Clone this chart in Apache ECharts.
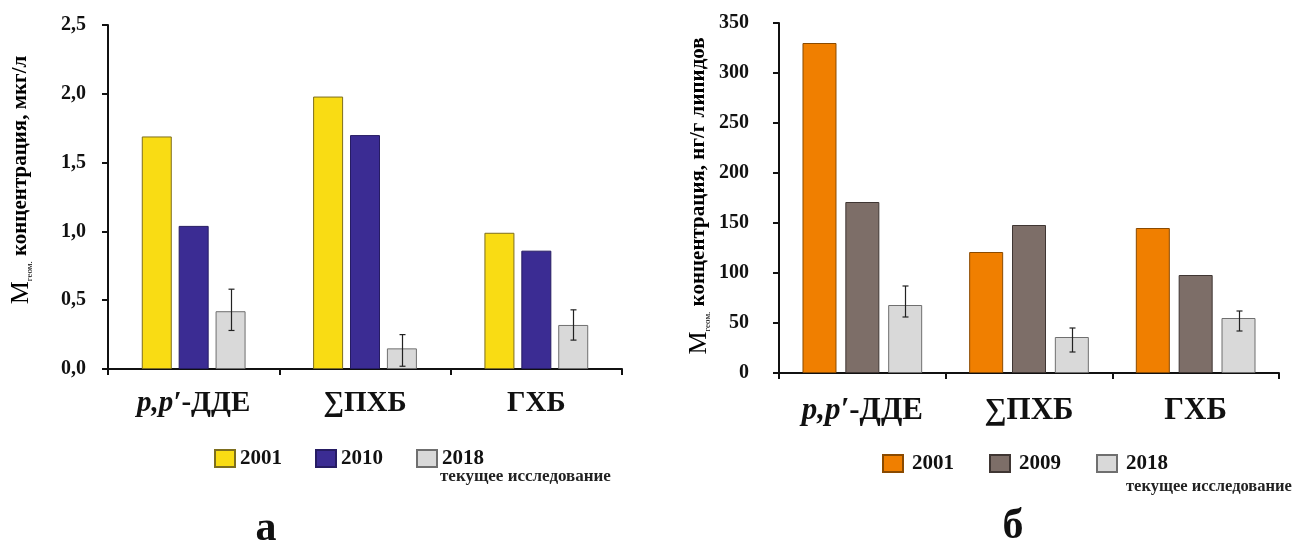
<!DOCTYPE html>
<html><head><meta charset="utf-8">
<script src="https://cdn.jsdelivr.net/npm/echarts@6/dist/echarts.min.js"></script>
<style>html,body{margin:0;padding:0;background:#fff}#c{width:1300px;height:560px}</style>
</head><body><div id="c"></div>
<script>
// ---- data ----
const categories = ['p,p′-ДДЕ', '∑ПХБ', 'ГХБ'];

const leftYears = ['2001', '2010', '2018'];
const left2001 = [1.69, 1.98, 0.99];
const left2010 = [1.04, 1.70, 0.86];
const left2018 = [0.42, 0.15, 0.32];
const left2018Low = [0.28, 0.02, 0.21];
const left2018High = [0.58, 0.25, 0.43];
const leftTicks = ['0,0', '0,5', '1,0', '1,5', '2,0', '2,5'];

const rightYears = ['2001', '2009', '2018'];
const right2001 = [330, 121, 145];
const right2009 = [171, 148, 98];
const right2018 = [68, 36, 55];
const right2018Low = [56, 21, 42];
const right2018High = [87, 45, 62];
const rightTicks = ['0', '50', '100', '150', '200', '250', '300', '350'];

const noteText = 'текущее исследование';
const panelLabels = ['а', 'б'];

// ---- styles ----
const SERIF = '"Liberation Serif", "Times New Roman", "DejaVu Serif", serif';
const LBW = 30, LGAP = 0.23;
const RBW = 34, RGAP = 0.26;

const chart = echarts.init(document.getElementById('c'), null, {renderer: 'canvas'});

function catLabel(v) {
  if (v.indexOf('p,p′') === 0) return '{i|p,p′}{b|' + v.slice(4) + '}';
  return '{b|' + v + '}';
}
function xAxis(gridIndex, fs, margin) {
  return {
    type: 'category', gridIndex, data: categories,
    axisLine: {lineStyle: {color: '#111', width: 2}},
    axisTick: {show: true, length: 6, lineStyle: {color: '#111', width: 2}},
    axisLabel: {
      margin, formatter: catLabel,
      rich: {
        i: {fontFamily: SERIF, fontWeight: 'bold', fontStyle: 'italic', fontSize: fs, color: '#111'},
        b: {fontFamily: SERIF, fontWeight: 'bold', fontSize: fs, color: '#111'}
      }
    }
  };
}
function yAxis(gridIndex, max, interval, ticks, margin) {
  return {
    type: 'value', gridIndex, min: 0, max, interval,
    splitLine: {show: false},
    axisLine: {show: true, lineStyle: {color: '#111', width: 2}},
    axisTick: {show: true, length: 6, lineStyle: {color: '#111', width: 2}},
    axisLabel: {
      margin, fontFamily: SERIF, fontWeight: 'bold', fontSize: 20, color: '#111',
      formatter: v => ticks[Math.round(v / interval)]
    }
  };
}
function bar(name, xi, data, color, border, bw, gap) {
  return {
    name, type: 'bar', xAxisIndex: xi, yAxisIndex: xi, data, z: 2,
    barWidth: bw, barGap: (gap * 100) + '%',
    itemStyle: {color, borderColor: border, borderWidth: 1},
    emphasis: {disabled: true}, animation: false
  };
}
function errSeries(xi, low, high, offset) {
  return {
    type: 'custom', xAxisIndex: xi, yAxisIndex: xi, animation: false, silent: true, z: 10,
    data: low.map((l, i) => [i, l, high[i]]),
    renderItem: function (params, api) {
      const lo = api.coord([api.value(0), api.value(1)]);
      const hi = api.coord([api.value(0), api.value(2)]);
      const x = Math.round(lo[0] + offset) + 0.5;
      const st = {stroke: '#222', lineWidth: 1.2};
      return {type: 'group', children: [
        {type: 'line', shape: {x1: x, y1: lo[1], x2: x, y2: hi[1]}, style: st},
        {type: 'line', shape: {x1: x - 3, y1: lo[1], x2: x + 3, y2: lo[1]}, style: st},
        {type: 'line', shape: {x1: x - 3, y1: hi[1], x2: x + 3, y2: hi[1]}, style: st}
      ]};
    }
  };
}
function yTitle(x, y, unit, fs) {
  return {
    type: 'text', x, y, rotation: Math.PI / 2,
    style: {
      text: '{m|M}{s|геом.}{b| концентрация, ' + unit + '}',
      align: 'center', verticalAlign: 'middle',
      rich: {
        m: {fontFamily: SERIF, fontSize: fs + 5, color: '#222'},
        s: {fontFamily: SERIF, fontSize: 9, color: '#222', verticalAlign: 'bottom', padding: [9, 0, 0, 0]},
        b: {fontFamily: SERIF, fontWeight: 'bold', fontSize: fs, color: '#222'}
      }
    }
  };
}

const legendText = {fontFamily: SERIF, fontWeight: 'bold', fontSize: 21, color: '#111'};

chart.setOption({
  backgroundColor: '#fff',
  animation: false,
  grid: [
    {left: 108, top: 25, width: 514, height: 344},
    {left: 779, top: 23, width: 500, height: 350}
  ],
  xAxis: [xAxis(0, 29, 20), xAxis(1, 31, 22)],
  yAxis: [yAxis(0, 2.5, 0.5, leftTicks, 22), yAxis(1, 350, 50, rightTicks, 30)],
  legend: [
    {
      left: 209, top: 443, icon: 'rect', itemWidth: 20, itemHeight: 17, itemGap: 33, selectedMode: false,
      data: leftYears.map(y => 'L' + y), formatter: n => n.slice(1), textStyle: legendText
    },
    {
      left: 877, top: 448, icon: 'rect', itemWidth: 20, itemHeight: 17, itemGap: 35, selectedMode: false,
      data: rightYears.map(y => 'R' + y), formatter: n => n.slice(1),
      textStyle: Object.assign({padding: [0, 0, 0, 4]}, legendText)
    }
  ],
  series: [
    bar('L' + leftYears[0], 0, left2001, '#F9DC14', '#7d6e1e', LBW, LGAP),
    bar('L' + leftYears[1], 0, left2010, '#3B2C93', '#261c63', LBW, LGAP),
    bar('L' + leftYears[2], 0, left2018, '#D9D9D9', '#6f6f6f', LBW, LGAP),
    errSeries(0, left2018Low, left2018High, LBW * (1 + LGAP)),
    bar('R' + rightYears[0], 1, right2001, '#F07F00', '#8a4a00', RBW, RGAP),
    bar('R' + rightYears[1], 1, right2009, '#7D6E68', '#3f3633', RBW, RGAP),
    bar('R' + rightYears[2], 1, right2018, '#D9D9D9', '#6f6f6f', RBW, RGAP),
    errSeries(1, right2018Low, right2018High, RBW * (1 + RGAP))
  ],
  graphic: [
    yTitle(21, 180, 'мкг/л', 21),
    yTitle(699, 196, 'нг/г липидов', 21),
    {type: 'text', left: 440, top: 468, style: {text: noteText, fontFamily: SERIF, fontWeight: 'bold', fontSize: 17, fill: '#222'}},
    {type: 'text', left: 1126, top: 478, style: {text: noteText, fontFamily: SERIF, fontWeight: 'bold', fontSize: 16.5, fill: '#222'}},
    {type: 'text', x: 266, y: 529, style: {text: panelLabels[0], align: 'center', verticalAlign: 'middle', fontFamily: SERIF, fontWeight: 'bold', fontSize: 42, fill: '#111'}},
    {type: 'text', x: 1013, y: 527, style: {text: panelLabels[1], align: 'center', verticalAlign: 'middle', fontFamily: SERIF, fontWeight: 'bold', fontSize: 42, fill: '#111'}}
  ]
});
</script>
</body></html>
